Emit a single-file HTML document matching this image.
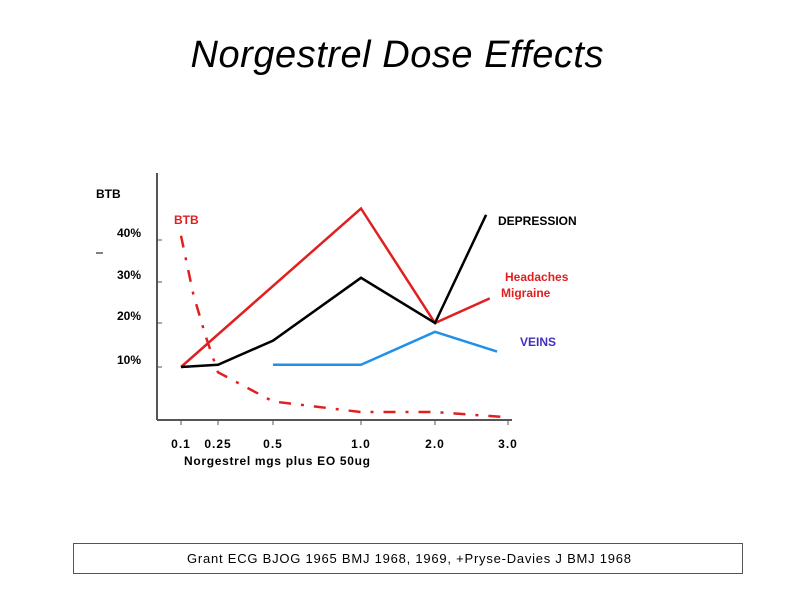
<!DOCTYPE html>
<html><head><meta charset="utf-8"><style>
body{margin:0;background:#fff;width:794px;height:595px;overflow:hidden;font-family:"Liberation Sans",sans-serif}
</style></head><body>
<svg width="794" height="595" xmlns="http://www.w3.org/2000/svg">
<text x="397" y="67" text-anchor="middle" font-size="38" font-style="italic" fill="#000" textLength="413">Norgestrel Dose Effects</text>
<g id="axes"></g>
<g id="marks"></g>
<g font-weight="bold" font-size="12">
<text x="96" y="198" fill="#000">BTB</text>
<text x="174" y="224" fill="#e02020">BTB</text>
<text x="498" y="225" fill="#000">DEPRESSION</text>
<text x="505" y="281" fill="#e02020">Headaches</text>
<text x="501" y="297" fill="#e02020">Migraine</text>
<text x="520" y="346" fill="#4030c0">VEINS</text>
<text x="184" y="465" fill="#000" textLength="186">Norgestrel  mgs  plus EO 50ug</text>
</g>
<line x1="96" y1="253" x2="103" y2="253" stroke="#000"/>
<rect x="73.5" y="543.5" width="669" height="30" fill="none" stroke="#555"/>
<text x="187" y="563" font-size="13" fill="#000" textLength="444">Grant ECG  BJOG 1965  BMJ 1968, 1969, +Pryse-Davies J  BMJ 1968</text>
</svg>
<script>
const xTicks=[0.1,0.25,0.5,1.0,2.0,3.0];
const xTickLabels=["0.1","0.25","0.5","1.0","2.0","3.0"];
const yTicks=[10,20,30,40];
const yTickLabels=["10%","20%","30%","40%"];
const headX=[0.1,1.0,2.0,2.75];
const headY=[10,47.5,20,26];
const depX=[0.1,0.25,0.5,1.0,2.0,2.7];
const depY=[10,10.5,16,31,20,46];
const veinX=[0.5,1.0,2.0,2.85];
const veinY=[10.5,10.5,18,13.5];
const btbX=[0.1,0.15,0.2,0.25,0.5,1.0,2.0,3.0];
const btbY=[41,27,17,9,3.5,1.5,1.5,0.5];
const XD=[0.1,0.25,0.5,1.0,2.0,3.0], XP=[181,218,273,361,435,508];
const YD=[0,10,20,30,40], YP=[420,367,323,282,240];
function interp(v,d,p){let i=0;while(i<d.length-2&&v>d[i+1])i++;return p[i]+(v-d[i])*(p[i+1]-p[i])/(d[i+1]-d[i]);}
const xs=v=>interp(v,XD,XP), ys=v=>interp(v,YD,YP);
const NS="http://www.w3.org/2000/svg";
const axes=document.getElementById('axes'), marks=document.getElementById('marks');
function mk(t,a,p){const e=document.createElementNS(NS,t);for(const k in a)e.setAttribute(k,a[k]);p.appendChild(e);return e;}
let e=mk('line',{x1:157,y1:173,x2:157,y2:420,stroke:'#555','stroke-width':2},axes);


e=mk('line',{x1:157,y1:420,x2:512,y2:420,stroke:'#555','stroke-width':2},axes);


xTicks.forEach((v,i)=>{const x=xs(v);
 let t=mk('line',{x1:x,y1:420,x2:x,y2:425,stroke:'#555'},axes);
 
 
 let l=mk('text',{x:x,y:448,'text-anchor':'middle','font-size':12,'font-weight':'bold','letter-spacing':1},axes);l.textContent=xTickLabels[i];
 
 });
yTicks.forEach((v,i)=>{const y=ys(v);
 let t=mk('line',{x1:157,y1:y,x2:162,y2:y,stroke:'#555'},axes);
 
 
 let l=mk('text',{x:141,y:y-3,'text-anchor':'end','font-size':12,'font-weight':'bold'},axes);l.textContent=yTickLabels[i];
 
 });
function line(X,Y,col,name,dash){const pts=X.map((v,i)=>xs(v)+','+ys(Y[i])).join(' ');
 const a={points:pts,fill:'none',stroke:col,'stroke-width':2.5,'stroke-linejoin':'miter'};
 if(dash)a['stroke-dasharray']=dash;
 const p=mk('polyline',a,marks);
 
 }
line(headX,headY,'#e02020','line-headaches');
line(depX,depY,'#000','line-depression');
line(veinX,veinY,'#2090e8','line-veins');
line(btbX,btbY,'#e02020','line-btb','12,10,3,10');
</script>
</body></html>
